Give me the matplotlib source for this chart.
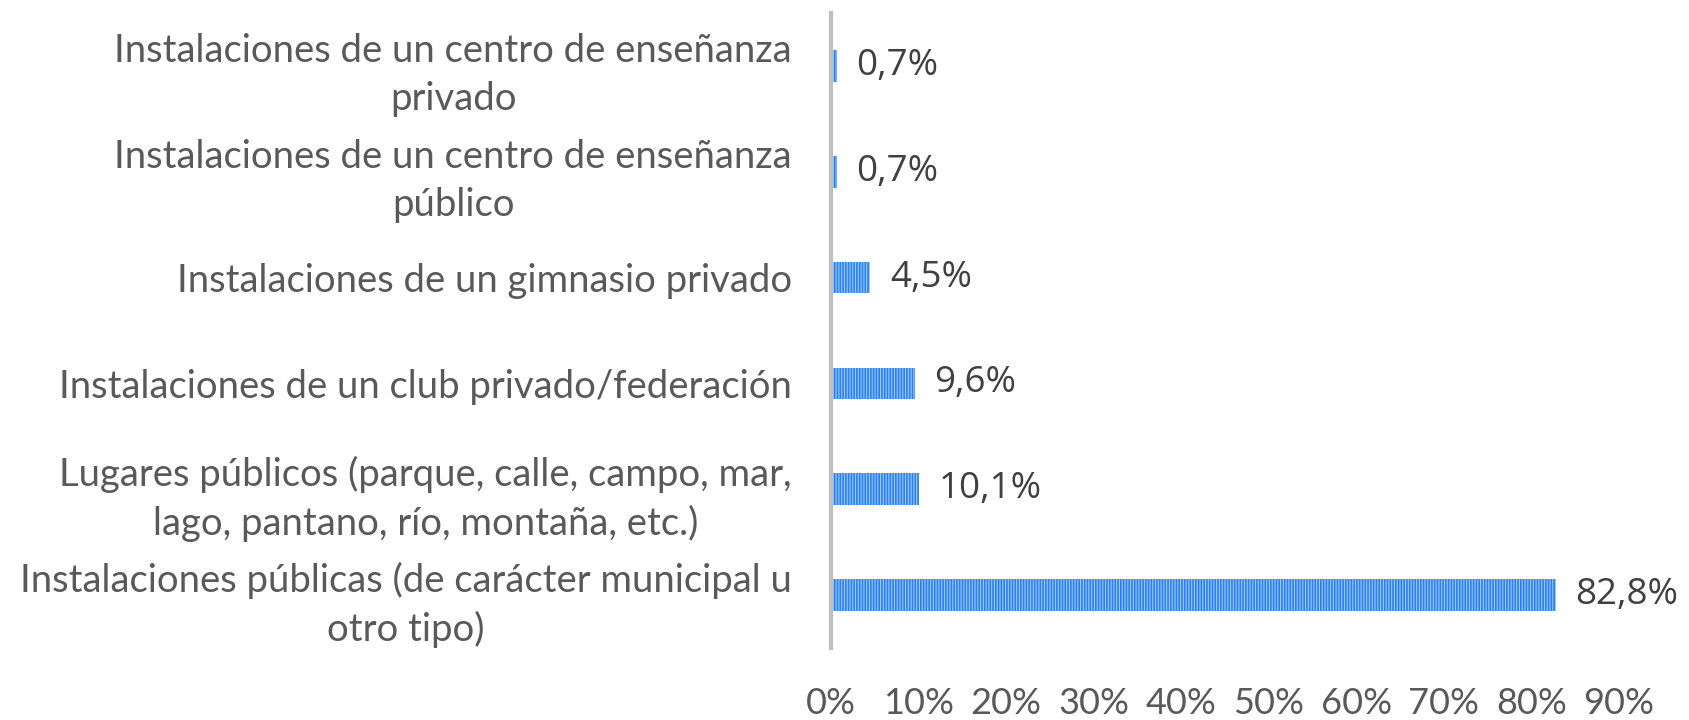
import matplotlib.pyplot as plt
import numpy as np

# datos (de arriba a abajo)
categorias = [
    'Instalaciones de un centro de enseñanza\nprivado',
    'Instalaciones de un centro de enseñanza\npúblico',
    'Instalaciones de un gimnasio privado',
    'Instalaciones de un club privado/federación',
    'Lugares públicos (parque, calle, campo, mar,\nlago, pantano, río, montaña, etc.)',
    'Instalaciones públicas (de carácter municipal u\notro tipo)',
]
porcentajes = [0.7, 0.7, 4.5, 9.6, 10.1, 82.8]
ticks_x = [0, 10, 20, 30, 40, 50, 60, 70, 80, 90]

plt.rcParams['hatch.linewidth'] = 1.2

fig = plt.figure(figsize=(16.89, 7.2), dpi=100)
ax = fig.add_axes([0.492, 0.1, 0.9585 - 0.492, 0.882])

y = np.arange(len(categorias))
bars = ax.barh(y, porcentajes, height=0.3, color='#9cc9f8', edgecolor='#2a80f0',
               linewidth=0, hatch='||||||', zorder=2)
ax.set_ylim(len(categorias) - 0.5, -0.5)
ax.set_xlim(0, 90)

# etiquetas de valores
etiquetas = [f'{v:.1f}%'.replace('.', ',') for v in porcentajes]
ax.bar_label(bars, labels=etiquetas, padding=14, fontsize=26.5,
             family='Open Sans', color='#404040')

ax.set_yticks(y)
ax.set_yticklabels(categorias, fontsize=27.5, family='Lato', color='#595959',
                   multialignment='center', linespacing=1.4)
ax.tick_params(axis='y', length=0, pad=28)

ax.set_xticks(ticks_x)
ax.set_xticklabels([f'{t}%' for t in ticks_x], fontsize=26,
                   family='Lato', color='#595959')
ax.tick_params(axis='x', length=0, pad=28)

for s in ['top', 'right', 'bottom']:
    ax.spines[s].set_visible(False)
ax.spines['left'].set_color('#bfbfbf')
ax.spines['left'].set_linewidth(3)
ax.spines['left'].set_zorder(3)

plt.savefig('out.png', dpi=100)
plt.close()
